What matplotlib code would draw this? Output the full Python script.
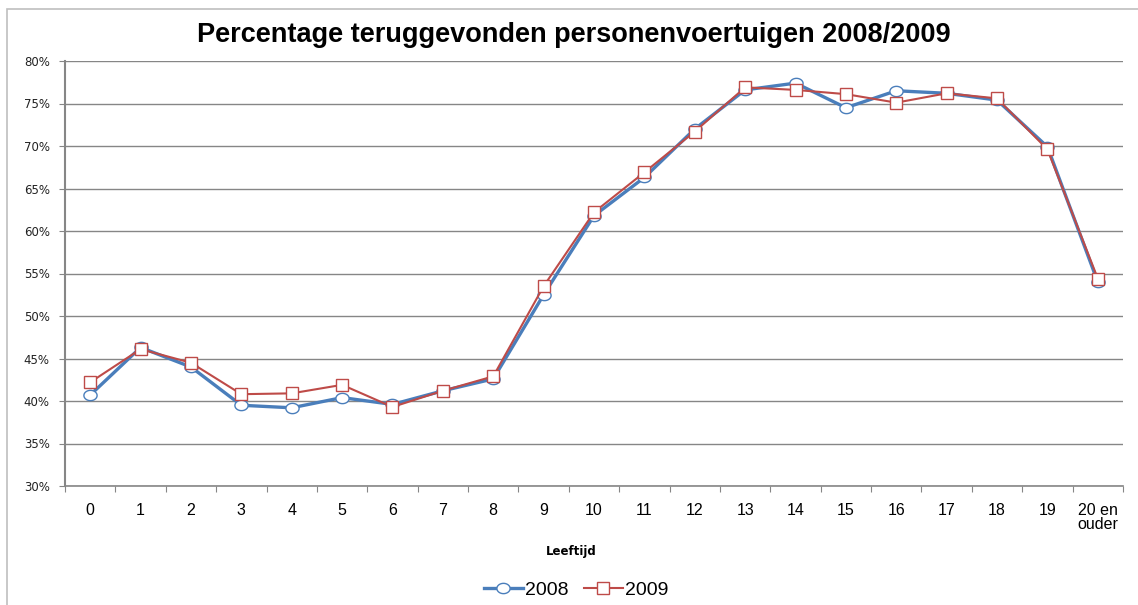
import numpy as np
import matplotlib.pyplot as plt
from matplotlib.path import Path
from matplotlib.lines import Line2D
from matplotlib.patches import Rectangle

# Leeftijd van het voertuig (categorieen)
leeftijd = ['0', '1', '2', '3', '4', '5', '6', '7', '8', '9', '10',
            '11', '12', '13', '14', '15', '16', '17', '18', '19', '20 en\nouder']

# Percentage teruggevonden (in %)
pct_2008 = [40.7, 46.3, 44.0, 39.5, 39.2, 40.4, 39.6, 41.2, 42.6, 52.5, 61.8,
            66.3, 72.0, 76.6, 77.4, 74.5, 76.5, 76.2, 75.4, 69.9, 54.0]
pct_2009 = [42.2, 46.1, 44.5, 40.8, 40.9, 41.9, 39.3, 41.2, 42.9, 53.5, 62.2,
            66.9, 71.7, 76.9, 76.6, 76.1, 75.1, 76.2, 75.6, 69.6, 54.4]

y_ticks = [30, 35, 40, 45, 50, 55, 60, 65, 70, 75, 80]

blauw = '#4A7EBB'
rood = '#BE4B48'
grijs = '#868686'

# iets platte cirkel, zoals in het origineel
t = np.linspace(0, 2 * np.pi, 60)
ellips = Path(np.column_stack([np.cos(t), 0.78 * np.sin(t)]), closed=True)

fig = plt.figure(figsize=(11.38, 6.05), dpi=100)
ax = fig.add_axes([65 / 1138, 1 - 486 / 605, (1123 - 65) / 1138, (486 - 61) / 605])

x = np.arange(len(leeftijd))
ax.plot(x, pct_2008, color=blauw, lw=2.4, marker=ellips, ms=9.5,
        mfc='white', mec=blauw, mew=1.0, zorder=3, label='2008')
ax.plot(x, pct_2009, color=rood, lw=1.5, marker='s', ms=8,
        mfc='white', mec=rood, mew=1.0, zorder=4, label='2009')

ax.set_xlim(-0.5, len(leeftijd) - 0.5)
ax.set_ylim(30, 80)

ax.set_yticks(y_ticks)
ax.set_yticklabels([f'{v}%' for v in y_ticks], fontsize=8.5, color='#222222')
ax.yaxis.grid(True, color=grijs, lw=1)
ax.set_axisbelow(True)

ax.set_xticks(np.arange(-0.5, len(leeftijd), 1))
ax.set_xticklabels([])
ax.set_xticks(x, minor=True)
ax.set_xticklabels(leeftijd, minor=True, fontsize=11.5,
                   family='Liberation Sans', linespacing=0.95)
ax.tick_params(axis='x', which='minor', length=0, pad=12)
ax.tick_params(axis='x', which='major', length=4, color=grijs)
ax.tick_params(axis='y', length=4, color=grijs, pad=7)

for s in ['top', 'right']:
    ax.spines[s].set_visible(False)
ax.spines['left'].set_color(grijs)
ax.spines['left'].set_linewidth(1.5)
ax.spines['bottom'].set_color(grijs)
ax.spines['bottom'].set_linewidth(1.2)

fig.text(574 / 1138, 1 - 41.7 / 605, 'Percentage teruggevonden personenvoertuigen 2008/2009',
         ha='center', va='baseline', fontsize=19.5, fontweight='bold',
         family='Liberation Sans')
fig.text(571 / 1138, 1 - 551 / 605, 'Leeftijd', ha='center', va='center',
         fontsize=8.5, fontweight='bold')

handles = [Line2D([], [], color=blauw, lw=2.4, marker=ellips, ms=9.5,
                  mfc='white', mec=blauw),
           Line2D([], [], color=rood, lw=1.5, marker='s', ms=8,
                  mfc='white', mec=rood)]
fig.legend(handles, ['2008', '2009'], loc='center',
           bbox_to_anchor=(576 / 1138, 1 - 590 / 605), ncol=2, frameon=False,
           prop={'family': 'Liberation Sans', 'size': 14},
           handlelength=2.0, handletextpad=0.1, columnspacing=0.8)

# rand om de grafiek
fig.patches.append(Rectangle((7 / 1138, -0.05), 1.1, 1 - 9 / 605 + 0.05,
                             transform=fig.transFigure, fill=False,
                             edgecolor='#BFBFBF', lw=1.2))

fig.savefig('out.png', dpi=100)
